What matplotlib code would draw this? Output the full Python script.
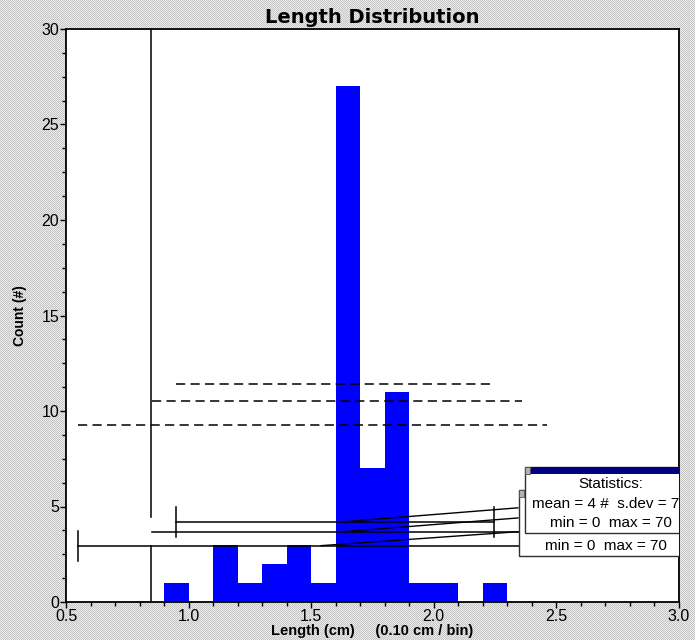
import numpy as np
import matplotlib
matplotlib.use("Agg")
import matplotlib.pyplot as plt
from matplotlib.ticker import MultipleLocator
from matplotlib.patches import Rectangle

# histogram data (0.10 cm bins)
bin_left = [0.9, 1.0, 1.1, 1.2, 1.3, 1.4, 1.5, 1.6, 1.7, 1.8, 1.9, 2.0, 2.1, 2.2]
counts = [1, 0, 3, 1, 2, 3, 1, 27, 7, 11, 1, 1, 0, 1]
bin_width = 0.1

# leftover overlay lines from the analysis window
dash_levels = [11.4, 10.5, 9.25]
dash_start = [0.95, 0.85, 0.55]
dash_end = [2.25, 2.36, 2.46]

bar_levels = [4.17, 3.65, 2.93]
bar_start = [0.95, 0.85, 0.55]
bar_end = [2.245, 2.35, 2.35]
cap_half = 0.78

marker_x = 0.847
slant_from = [(1.63, 4.20), (1.63, 3.68), (1.54, 2.95)]
slant_to = [(2.343, 4.93), (2.343, 4.40), (2.343, 3.68)]

stats_lines = ["Statistics:", "mean = 4 #  s.dev = 7", "min = 0  max = 70"]
back_line = "min = 0  max = 70"

fig = plt.figure(figsize=(6.95, 6.40), dpi=100)

# dithered gray window background
h, w = 640, 695
yy, xx = np.mgrid[0:h, 0:w]
checker = np.where((xx + yy) % 2 == 0, 0.78, 0.92)
fig.figimage(np.dstack([checker] * 3), zorder=-10)

ax = fig.add_axes([66 / 695, 1 - 602 / 640, (679 - 66) / 695, (602 - 29) / 640])
ax.set_zorder(1)
ax.set_facecolor("white")

ax.bar(bin_left, counts, width=bin_width, align="edge", color="#0000ff",
       edgecolor="none", zorder=2)

for lvl, x0, x1 in zip(dash_levels, dash_start, dash_end):
    ax.plot([x0, x1], [lvl, lvl], color="black", lw=1.1, ls=(0, (6, 3.5)), zorder=3)

for lvl, x0, x1 in zip(bar_levels, bar_start, bar_end):
    ax.plot([x0, x1], [lvl, lvl], color="black", lw=1.1, zorder=3)
ax.plot([bar_start[0]] * 2, [bar_levels[0] - cap_half, bar_levels[0] + cap_half], color="black", lw=1.1)
ax.plot([bar_end[0]] * 2, [bar_levels[0] - cap_half, bar_levels[0] + cap_half], color="black", lw=1.1)
ax.plot([bar_start[2]] * 2, [bar_levels[2] - cap_half, bar_levels[2] + cap_half], color="black", lw=1.1)

# vertical marker (gap where it crosses the cap)
ax.plot([marker_x, marker_x], [bar_levels[1] + 0.8, 30], color="black", lw=1.1, zorder=3)
ax.plot([marker_x, marker_x], [0, bar_levels[2]], color="black", lw=1.1, zorder=3)

for (x0, y0), (x1, y1) in zip(slant_from, slant_to):
    ax.plot([x0, x1], [y0, y1], color="black", lw=1.0, zorder=3)

# back stats box
ax.add_patch(Rectangle((2.347, 2.42), 1.0, 3.44, facecolor="white", edgecolor="#303030",
                       lw=1.0, zorder=4, clip_on=True))
ax.add_patch(Rectangle((2.347, 5.50), 0.02, 0.36, facecolor="#b0b0b0", edgecolor="#505050",
                       lw=0.6, zorder=4))
ax.text(2.453, 2.95, back_line, fontsize=11, family="Liberation Sans", va="center",
        ha="left", zorder=5, clip_on=True)

# front stats box
ax.add_patch(Rectangle((2.372, 3.60), 1.0, 3.48, facecolor="white", edgecolor="#303030",
                       lw=1.0, zorder=6, clip_on=True))
ax.add_patch(Rectangle((2.392, 6.72), 1.0, 0.36, facecolor="#000080", edgecolor="none",
                       zorder=7, clip_on=True))
ax.add_patch(Rectangle((2.372, 6.72), 0.02, 0.36, facecolor="#b0b0b0", edgecolor="#505050",
                       lw=0.6, zorder=7))
ax.text(2.72, 6.18, stats_lines[0], fontsize=11, family="Liberation Sans", va="center",
        ha="center", zorder=8, clip_on=True)
ax.text(2.40, 5.13, stats_lines[1], fontsize=11, family="Liberation Sans", va="center",
        ha="left", zorder=8, clip_on=True)
ax.text(2.474, 4.14, stats_lines[2], fontsize=11, family="Liberation Sans", va="center",
        ha="left", zorder=8, clip_on=True)

ax.set_xlim(0.5, 3.0)
ax.set_ylim(0, 30)
ax.xaxis.set_major_locator(MultipleLocator(0.5))
ax.xaxis.set_minor_locator(MultipleLocator(0.1))
ax.yaxis.set_major_locator(MultipleLocator(5))
ax.yaxis.set_minor_locator(MultipleLocator(1.25))
ax.set_xticklabels([f"{v:.1f}" for v in ax.get_xticks()])
ax.tick_params(which="major", length=4, width=1, labelsize=11.5, pad=1)
ax.tick_params(which="minor", length=3, width=1)
for lab in ax.get_xticklabels() + ax.get_yticklabels():
    lab.set_family("Liberation Sans")
for s in ax.spines.values():
    s.set_linewidth(1.3)

ax.set_title("Length Distribution", fontsize=14, fontweight="bold", family="DejaVu Sans", pad=4)
ax.set_xlabel("Length (cm)     (0.10 cm / bin)", fontsize=10.5, fontweight="bold",
              family="Liberation Sans", labelpad=0)
ax.set_ylabel("Count (#)", fontsize=10, fontweight="bold", family="Liberation Sans", labelpad=10)

fig.savefig("out.png", dpi=100, facecolor=fig.get_facecolor())
